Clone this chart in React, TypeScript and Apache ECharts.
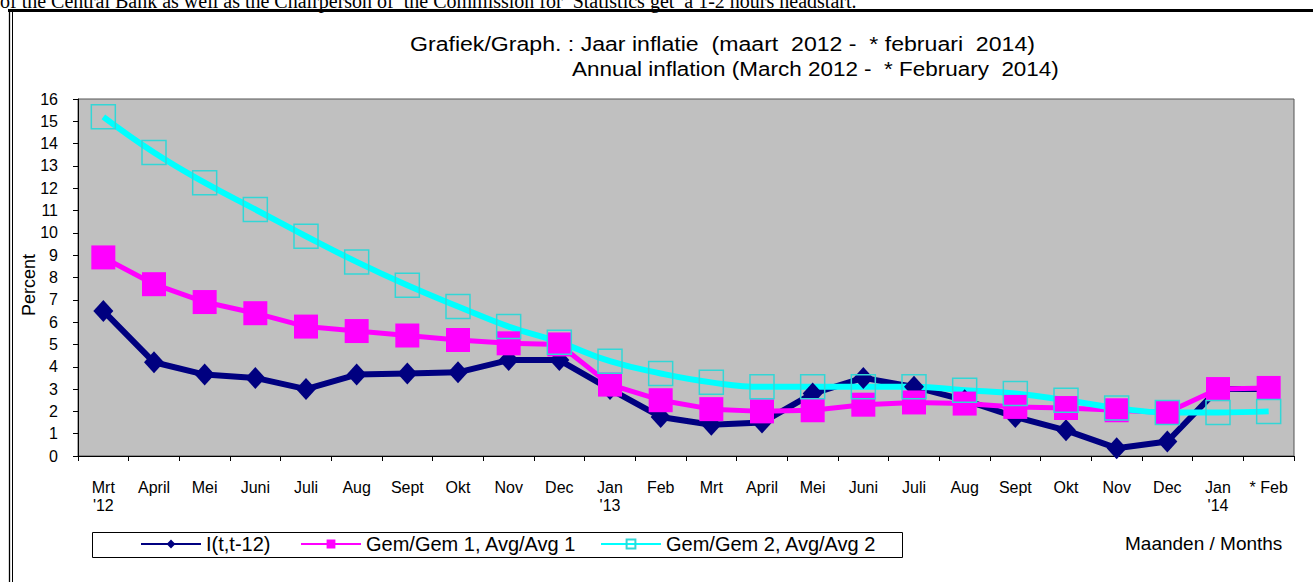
import React, { useEffect, useRef } from "react";
import * as echarts from "echarts";

// ---- data ----
const months = [
  "Mrt\n'12", "April", "Mei", "Juni", "Juli", "Aug", "Sept", "Okt", "Nov", "Dec",
  "Jan\n'13", "Feb", "Mrt", "April", "Mei", "Juni", "Juli", "Aug", "Sept", "Okt", "Nov", "Dec",
  "Jan\n'14", "* Feb",
];
const inflation = [6.5, 4.2, 3.65, 3.5, 3.0, 3.65, 3.7, 3.75, 4.3, 4.3, 3.0, 1.75, 1.4, 1.5, 2.8, 3.5, 3.1, 2.5, 1.75, 1.15, 0.35, 0.65, 3.0, 3.0];
const avg1 = [8.9, 7.7, 6.9, 6.4, 5.8, 5.6, 5.4, 5.2, 5.05, 5.0, 3.2, 2.5, 2.1, 2.0, 2.05, 2.3, 2.4, 2.35, 2.2, 2.15, 2.05, 1.95, 3.0, 3.05];
const avg2 = [15.2, 13.6, 12.25, 11.05, 9.85, 8.7, 7.65, 6.7, 5.8, 5.1, 4.25, 3.7, 3.3, 3.1, 3.1, 3.1, 3.1, 2.95, 2.8, 2.5, 2.15, 1.95, 1.95, 2.0];
const seriesNames = ["I(t,t-12)", "Gem/Gem 1, Avg/Avg 1", "Gem/Gem 2, Avg/Avg 2"];
const yMin = 0;
const yMax = 16;
const yStep = 1;
const titleLines = [
  "Grafiek/Graph. : Jaar inflatie  (maart  2012 -  * februari  2014)",
  "Annual inflation (March 2012 -  * February  2014)",
];
const yAxisTitle = "Percent";
const xAxisTitle = "Maanden / Months";
const topSentence =
  "of the Central Bank as well as the Chairperson of  the Commission for  Statistics get  a 1-2 hours headstart.";

const FONT = "'Liberation Sans', Arial, sans-serif";
const SERIF = "'Liberation Serif', 'Times New Roman', serif";

export default function App() {
  const ref = useRef<HTMLDivElement>(null);
  useEffect(() => {
    if (!ref.current) return;
    const chart = echarts.init(ref.current, undefined, { renderer: "svg" });
    const legendX = [140, 300, 600];
    const option: any = {
      animation: false,
      backgroundColor: "#ffffff",
      grid: {
        left: 78, top: 99, width: 1216, height: 357,
        show: true, backgroundColor: "#C0C0C0", borderColor: "#555555", borderWidth: 1,
      },
      xAxis: {
        type: "category",
        data: months,
        boundaryGap: true,
        axisLine: { lineStyle: { color: "#000", width: 1 } },
        axisTick: { show: true, length: 5, lineStyle: { color: "#000" } },
        axisLabel: { interval: 0, color: "#000", fontSize: 16, fontFamily: FONT, margin: 22, lineHeight: 18 },
        splitLine: { show: false },
      },
      yAxis: {
        type: "value",
        min: yMin, max: yMax, interval: yStep,
        axisLine: { show: true, lineStyle: { color: "#000", width: 1 } },
        axisTick: { show: true, length: 5, lineStyle: { color: "#000" } },
        axisLabel: { color: "#000", fontSize: 16, fontFamily: FONT, margin: 20 },
        splitLine: { show: false },
      },
      legend: seriesNames.map((n, i) => ({
        data: [n],
        left: legendX[i],
        top: 534,
        itemWidth: 60,
        itemHeight: 11,
        itemGap: 0,
        padding: 0,
        selectedMode: false,
        textStyle: { fontSize: 20, fontFamily: FONT, color: "#000" },
        lineStyle: { width: 2 },
      })),
      series: [
        {
          name: seriesNames[0], type: "line", data: inflation,
          symbol: "diamond", symbolSize: [20, 22],
          lineStyle: { color: "#000080", width: 6 },
          itemStyle: { color: "#000080" },
          emphasis: { disabled: true },
        },
        {
          name: seriesNames[1], type: "line", data: avg1,
          symbol: "rect", symbolSize: 24,
          lineStyle: { color: "#FF00FF", width: 5 },
          itemStyle: { color: "#FF00FF" },
          emphasis: { disabled: true },
        },
        {
          name: seriesNames[2], type: "line", data: avg2, smooth: 0.45,
          symbol: "rect", symbolSize: 24,
          lineStyle: { color: "#00FFFF", width: 6 },
          itemStyle: { color: "rgba(0,0,0,0)", borderColor: "#33D6D6", borderWidth: 1.5 },
          emphasis: { disabled: true },
        },
      ],
      graphic: [
        {
          type: "text", x: 0, y: 11, z: 5,
          style: { text: topSentence, fontSize: 20, fontFamily: SERIF, fill: "#000", verticalAlign: "bottom" },
        },
        { type: "line", z: 10, shape: { x1: 8, y1: 10.5, x2: 1313, y2: 10.5 }, style: { stroke: "#000", lineWidth: 3 } },
        { type: "line", z: 10, shape: { x1: 9.5, y1: 9, x2: 9.5, y2: 582 }, style: { stroke: "#000", lineWidth: 1.3 } },
        { type: "line", z: 10, shape: { x1: 12.5, y1: 12, x2: 12.5, y2: 582 }, style: { stroke: "#000", lineWidth: 1 } },
        {
          type: "text", x: 410, y: 44, scaleX: 1.1,
          style: { text: titleLines[0], fontSize: 21, fontFamily: FONT, fill: "#000", verticalAlign: "middle" },
        },
        {
          type: "text", x: 572, y: 69, scaleX: 1.07,
          style: { text: titleLines[1], fontSize: 21, fontFamily: FONT, fill: "#000", verticalAlign: "middle" },
        },
        {
          type: "text", x: 29, y: 285, rotation: Math.PI / 2,
          style: { text: yAxisTitle, fontSize: 18, fontFamily: FONT, fill: "#000", align: "center", verticalAlign: "middle" },
        },
        {
          type: "rect", z: 1, shape: { x: 92.5, y: 532.5, width: 810, height: 25 },
          style: { fill: "#fff", stroke: "#000", lineWidth: 1 },
        },
        {
          type: "text", x: 1125, y: 543,
          style: { text: xAxisTitle, fontSize: 19, fontFamily: FONT, fill: "#000", verticalAlign: "middle" },
        },
      ],
    };
    chart.setOption(option);
    return () => chart.dispose();
  }, []);
  return (
    <div
      ref={ref}
      style={{ position: "absolute", left: 0, top: 0, width: 1313, height: 582, background: "#fff" }}
    />
  );
}
